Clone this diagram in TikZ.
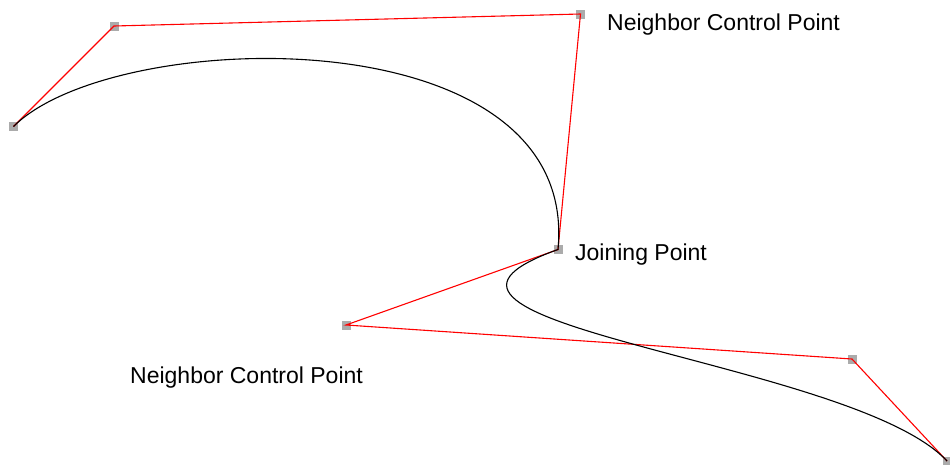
\documentclass[tikz,border=0pt]{standalone}
\usepackage{fontspec}
\setmainfont{Liberation Sans}
\definecolor{handlegray}{HTML}{ABABAB}
\definecolor{handlered}{HTML}{FF0000}
\begin{document}
\begin{tikzpicture}[x=1pt,y=-1pt,
  handle/.style={fill=handlegray,draw=none,minimum size=9pt,inner sep=0pt,rectangle},
  polyline/.style={draw=handlered,line width=1.1pt},
  curve/.style={draw=black,line width=1.1pt},
  lbl/.style={font=\fontsize{23}{26}\selectfont,anchor=base west,inner sep=0pt}]
\useasboundingbox[fill=white] (0,0) rectangle (950,464);
\coordinate (p0) at (13.5,126.5);
\coordinate (p1) at (114,26);
\coordinate (p2) at (580.5,14);
\coordinate (p3) at (558,249.5);
\coordinate (p4) at (346,325);
\coordinate (p5) at (852,359);
\coordinate (p6) at (947,461);
\foreach \p in {p0,p1,p2,p3,p4,p5,p6} \node[handle] (h\p) at (\p) {};
\draw[polyline] (p0) -- (p1) -- (p2) -- (p3) -- (p4) -- (p5) -- (p6);
\draw[curve] (p0) .. controls (p1) and (p2) .. (p3) .. controls (p4) and (p5) .. (p6);
\node[lbl] (l1) at (607,30) {Neighbor Control Point};
\node[lbl] (l2) at (575,260) {Joining Point};
\node[lbl] (l3) at (130,383) {Neighbor Control Point};
\end{tikzpicture}
\end{document}
